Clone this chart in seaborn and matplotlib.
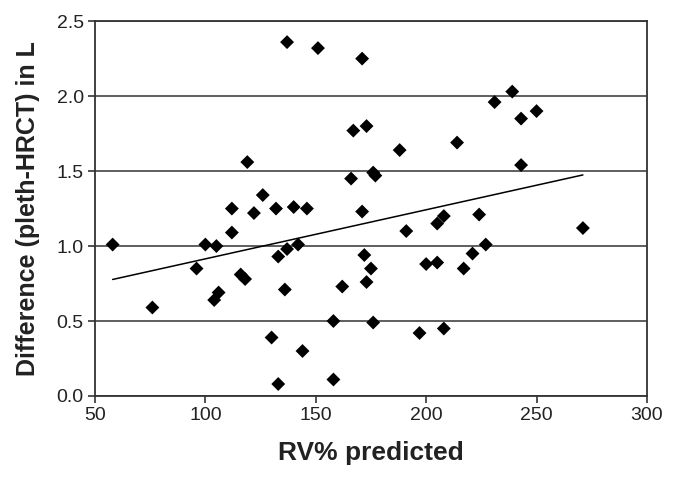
import matplotlib
matplotlib.use("Agg")
import matplotlib.pyplot as plt
import numpy as np
import pandas as pd
import seaborn as sns

# data
rv_pred = [58, 76, 96, 100, 104, 105, 106, 112, 112, 116, 118, 119, 122, 126,
           130, 132, 133, 133, 136, 137, 137, 140, 142, 144, 146, 151, 158, 158,
           162, 166, 167, 171, 171, 172, 173, 173, 175, 176, 176, 177, 188, 191,
           197, 200, 205, 205, 208, 208, 214, 217, 221, 224, 227, 231, 239, 243,
           243, 250, 271]
diff_l = [1.01, 0.59, 0.85, 1.01, 0.64, 1.00, 0.69, 1.25, 1.09, 0.81, 0.78, 1.56,
          1.22, 1.34, 0.39, 1.25, 0.93, 0.08, 0.71, 0.98, 2.36, 1.26, 1.01, 0.30,
          1.25, 2.32, 0.50, 0.11, 0.73, 1.45, 1.77, 2.25, 1.23, 0.94, 1.80, 0.76,
          0.85, 1.49, 0.49, 1.47, 1.64, 1.10, 0.42, 0.88, 0.89, 1.15, 1.20, 0.45,
          1.69, 0.85, 0.95, 1.21, 1.01, 1.96, 2.03, 1.85, 1.54, 1.90, 1.12]
x_ticks = [50, 100, 150, 200, 250, 300]
y_ticks = [0.0, 0.5, 1.0, 1.5, 2.0, 2.5]

df = pd.DataFrame({"rv": rv_pred, "diff": diff_l})

sns.set_style("white")
plt.rcParams["font.family"] = ["Liberation Sans", "DejaVu Sans"]

fig = plt.figure(figsize=(6.76, 4.8), dpi=100)
ax = fig.add_axes([0.1405, 0.175, 0.8165, 0.781])

sns.regplot(x="rv", y="diff", data=df, ci=None, ax=ax,
            marker="D",
            scatter_kws={"s": 50, "color": "black", "edgecolor": "none", "alpha": 1},
            line_kws={"color": "black", "lw": 1.1})

ax.set_xlim(50, 300)
ax.set_ylim(0, 2.5)
ax.set_xticks(x_ticks)
ax.set_yticks(y_ticks)
ax.set_yticklabels([f"{v:.1f}" for v in y_ticks])
ax.yaxis.grid(True, color="#333333", lw=1.1)
ax.set_axisbelow(True)
for s in ax.spines.values():
    s.set_color("#333333")
    s.set_linewidth(1.3)
ax.tick_params(axis="both", direction="out", length=5, width=1.2,
               color="#333333", labelsize=14, labelcolor="#222222",
               bottom=True, left=True, pad=3)

ax.set_xlabel("RV% predicted", fontsize=19, fontweight="bold", color="#222222",
              labelpad=12)
ax.set_ylabel("Difference (pleth-HRCT) in L", fontsize=18, fontweight="bold",
              color="#222222", labelpad=12)

plt.savefig("out.png", dpi=100)
plt.close()
